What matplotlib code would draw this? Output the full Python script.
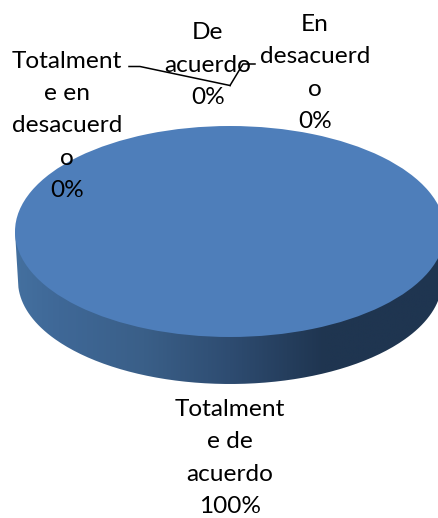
import numpy as np
import matplotlib
matplotlib.use('Agg')
import matplotlib.pyplot as plt
from matplotlib.path import Path
from matplotlib.patches import PathPatch
from matplotlib.colors import LinearSegmentedColormap

categories = ['Totalmente de acuerdo', 'De acuerdo', 'En desacuerdo', 'Totalmente en desacuerdo']
values = [100, 0, 0, 0]
label_lines = ['Totalment\ne de\nacuerdo\n100%', 'De\nacuerdo\n0%',
               'En\ndesacuerd\no\n0%', 'Totalment\ne en\ndesacuerd\no\n0%']

W, H = 438, 518
plt.rcParams['font.family'] = ['Lato', 'DejaVu Sans']

fig = plt.figure(figsize=(W / 100, H / 100), dpi=100)
ax = fig.add_axes([0, 0, 1, 1])
ax.set_xlim(0, W)
ax.set_ylim(H, 0)
ax.axis('off')

# side of the disc, gradient clipped to the outline
cx, cy, a, b = 230, 231.5, 215, 105.5
t = np.linspace(0, np.pi, 200)
xs = np.r_[cx + a * np.cos(t), cx - 212 * np.cos(t)]
ys = np.r_[cy + 0 * t, 281 + 103 * np.sin(t)]
side = PathPatch(Path(np.c_[xs, ys]), fc='none', ec='none')
ax.add_patch(side)
cmap = LinearSegmentedColormap.from_list('side', [(0, '#44709f'), (0.1, '#3f6897'), (0.3, '#3a5f88'),
                                                  (0.5, '#2e4c71'), (0.72, '#1f3550'), (1, '#1f3550')])
im = ax.imshow(np.linspace(0, 1, 256)[None, :], cmap=cmap, extent=[15, 445, 400, 200], aspect='auto', zorder=1)
im.set_clip_path(side)
ax.set_xlim(0, W)
ax.set_ylim(H, 0)

# top face: the pie squashed by its own axes
ax_top = fig.add_axes([(cx - a) / W, 1 - (cy + b) / H, 2 * a / W, 2 * b / H])
ax_top.pie(values, colors=['#4e7eba'] * 4, radius=1, startangle=90, counterclock=False)
ax_top.set_aspect('auto')
ax_top.set_xlim(-1, 1)
ax_top.set_ylim(-1, 1)
ax_top.patch.set_alpha(0)

# labels
label_pos = [(230, 458), (208, 65), (315, 73), (67, 126)]
for txt, (x, y) in zip(label_lines, label_pos):
    fig.text(x / W, 1 - y / H, txt, ha='center', va='center', fontsize=17.6,
             linespacing=1.67, color='black', zorder=5)

# leader lines
ax_l = fig.add_axes([0, 0, 1, 1])
ax_l.set_xlim(0, W)
ax_l.set_ylim(H, 0)
ax_l.axis('off')
ax_l.plot([129, 140, 230], [66.5, 66.5, 85.5], color='black', lw=1.1)
ax_l.plot([230, 243, 255], [85.5, 64, 64], color='black', lw=1.1)

fig.savefig('out.png', dpi=100)
